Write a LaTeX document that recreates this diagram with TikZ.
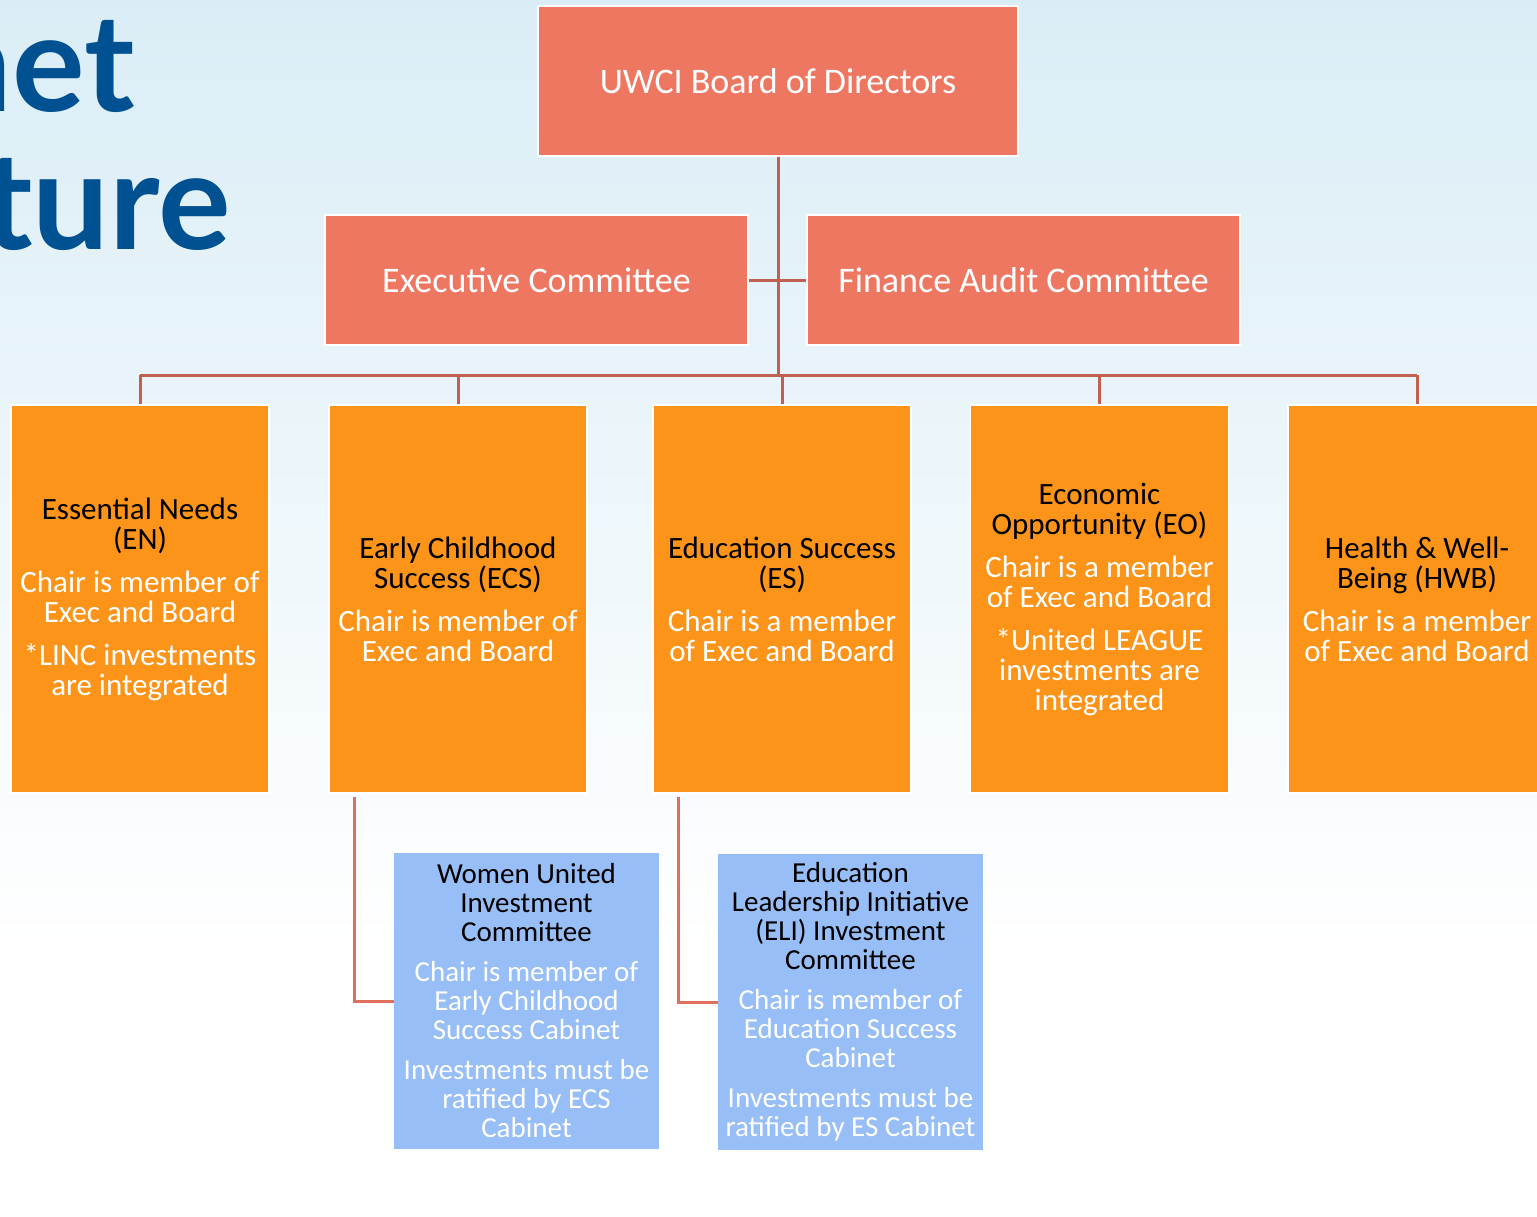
\documentclass[tikz,border=0pt]{standalone}
\usepackage{fontspec}
\setmainfont{Carlito}
\newfontfamily\titlefont{Lato}
\definecolor{bgtop}{RGB}{218,237,246}
\definecolor{salmon}{RGB}{238,119,98}
\definecolor{cabor}{RGB}{252,148,26}
\definecolor{invbl}{RGB}{151,190,246}
\definecolor{trunkc}{RGB}{192,96,80}
\definecolor{lowc}{RGB}{224,110,92}
\definecolor{titleblue}{RGB}{0,81,145}
\newcommand{\tb}[1]{\textcolor{black}{#1}}
\tikzset{
  topbox/.style={fill=salmon, draw=white, line width=1.5pt, text=white, inner sep=0pt,
    font=\fontsize{36}{40}\selectfont, minimum height=130pt},
  cab/.style={fill=cabor, draw=white, line width=1.2pt, text=white, inner sep=0pt, align=center,
    font=\fontsize{31}{30}\selectfont, minimum width=258pt, minimum height=388pt},
  inv/.style={fill=invbl, draw=none, text=white, inner sep=0pt, align=center,
    font=\fontsize{29}{29}\selectfont, minimum width=265pt, minimum height=296pt},
  trunk/.style={draw=trunkc, line width=3pt},
  low/.style={draw=lowc, line width=3pt},
  bigtitle/.style={text=titleblue, inner sep=0pt, font=\titlefont\bfseries\fontsize{136}{136}\selectfont}
}
\begin{document}
\begin{tikzpicture}[x=1pt,y=-1pt]
\useasboundingbox (0,0) rectangle (1537,1217);
\clip (0,0) rectangle (1537,1217);
\shade[top color=bgtop, bottom color=white] (0,0) rectangle (1537,950);
\fill[white] (0,950) rectangle (1537,1217);

% title fragments
\node[bigtitle, anchor=base east] (t1) at (135,112) {net};
\node[bigtitle, anchor=base east] (t2) at (231,250) {ture};

% top boxes
\node[topbox, minimum width=480pt, minimum height=150pt] (board) at (778,81) {UWCI Board of Directors};
\node[topbox, minimum width=423pt] (exec) at (536.5,280) {Executive Committee};
\node[topbox, minimum width=433pt] (fin) at (1023.5,280) {Finance Audit Committee};

% cabinets
\node[cab] (en) at (140,599) {\tb{Essential Needs}\\\tb{(EN)}\\[13pt]Chair is member of\\Exec and Board\\[13pt]*LINC investments\\are integrated};
\node[cab] (ecs) at (458,599) {\tb{Early Childhood}\\\tb{Success (ECS)}\\[13pt]Chair is member of\\Exec and Board};
\node[cab] (es) at (782,599) {\tb{Education Success}\\\tb{(ES)}\\[13pt]Chair is a member\\of Exec and Board};
\node[cab] (eo) at (1099.5,599) {\tb{Economic}\\\tb{Opportunity (EO)}\\[13pt]Chair is a member\\of Exec and Board\\[13pt]*United LEAGUE\\investments are\\integrated};
\node[cab] (hwb) at (1417,599) {\tb{Health \& Well-}\\\tb{Being (HWB)}\\[13pt]Chair is a member\\of Exec and Board};

% investment committees
\node[inv] (wu) at (526.5,1001) {\tb{Women United}\\\tb{Investment}\\\tb{Committee}\\[11pt]Chair is member of\\Early Childhood\\Success Cabinet\\[11pt]Investments must be\\ratified by ECS\\Cabinet};
\node[inv] (eli) at (850.5,1002) {\tb{Education}\\\tb{Leadership Initiative}\\\tb{(ELI) Investment}\\\tb{Committee}\\[11pt]Chair is member of\\Education Success\\Cabinet\\[11pt]Investments must be\\ratified by ES Cabinet};

% connectors
\coordinate (bus) at (0,375);
\draw[trunk] (board.south) -- (board.south |- bus);
\draw[trunk] (exec.east) -- (fin.west);
\draw[trunk] (en.north |- bus) -- (hwb.north |- bus);
\foreach \n in {en,ecs,es,eo,hwb} \draw[trunk] (\n.north |- bus) -- (\n.north);
\coordinate (c1) at (354,797);
\coordinate (c2) at (678,797);
\draw[low] (c1) |- (wu.west);
\draw[low] (c2) |- (eli.west);
\end{tikzpicture}
\end{document}
